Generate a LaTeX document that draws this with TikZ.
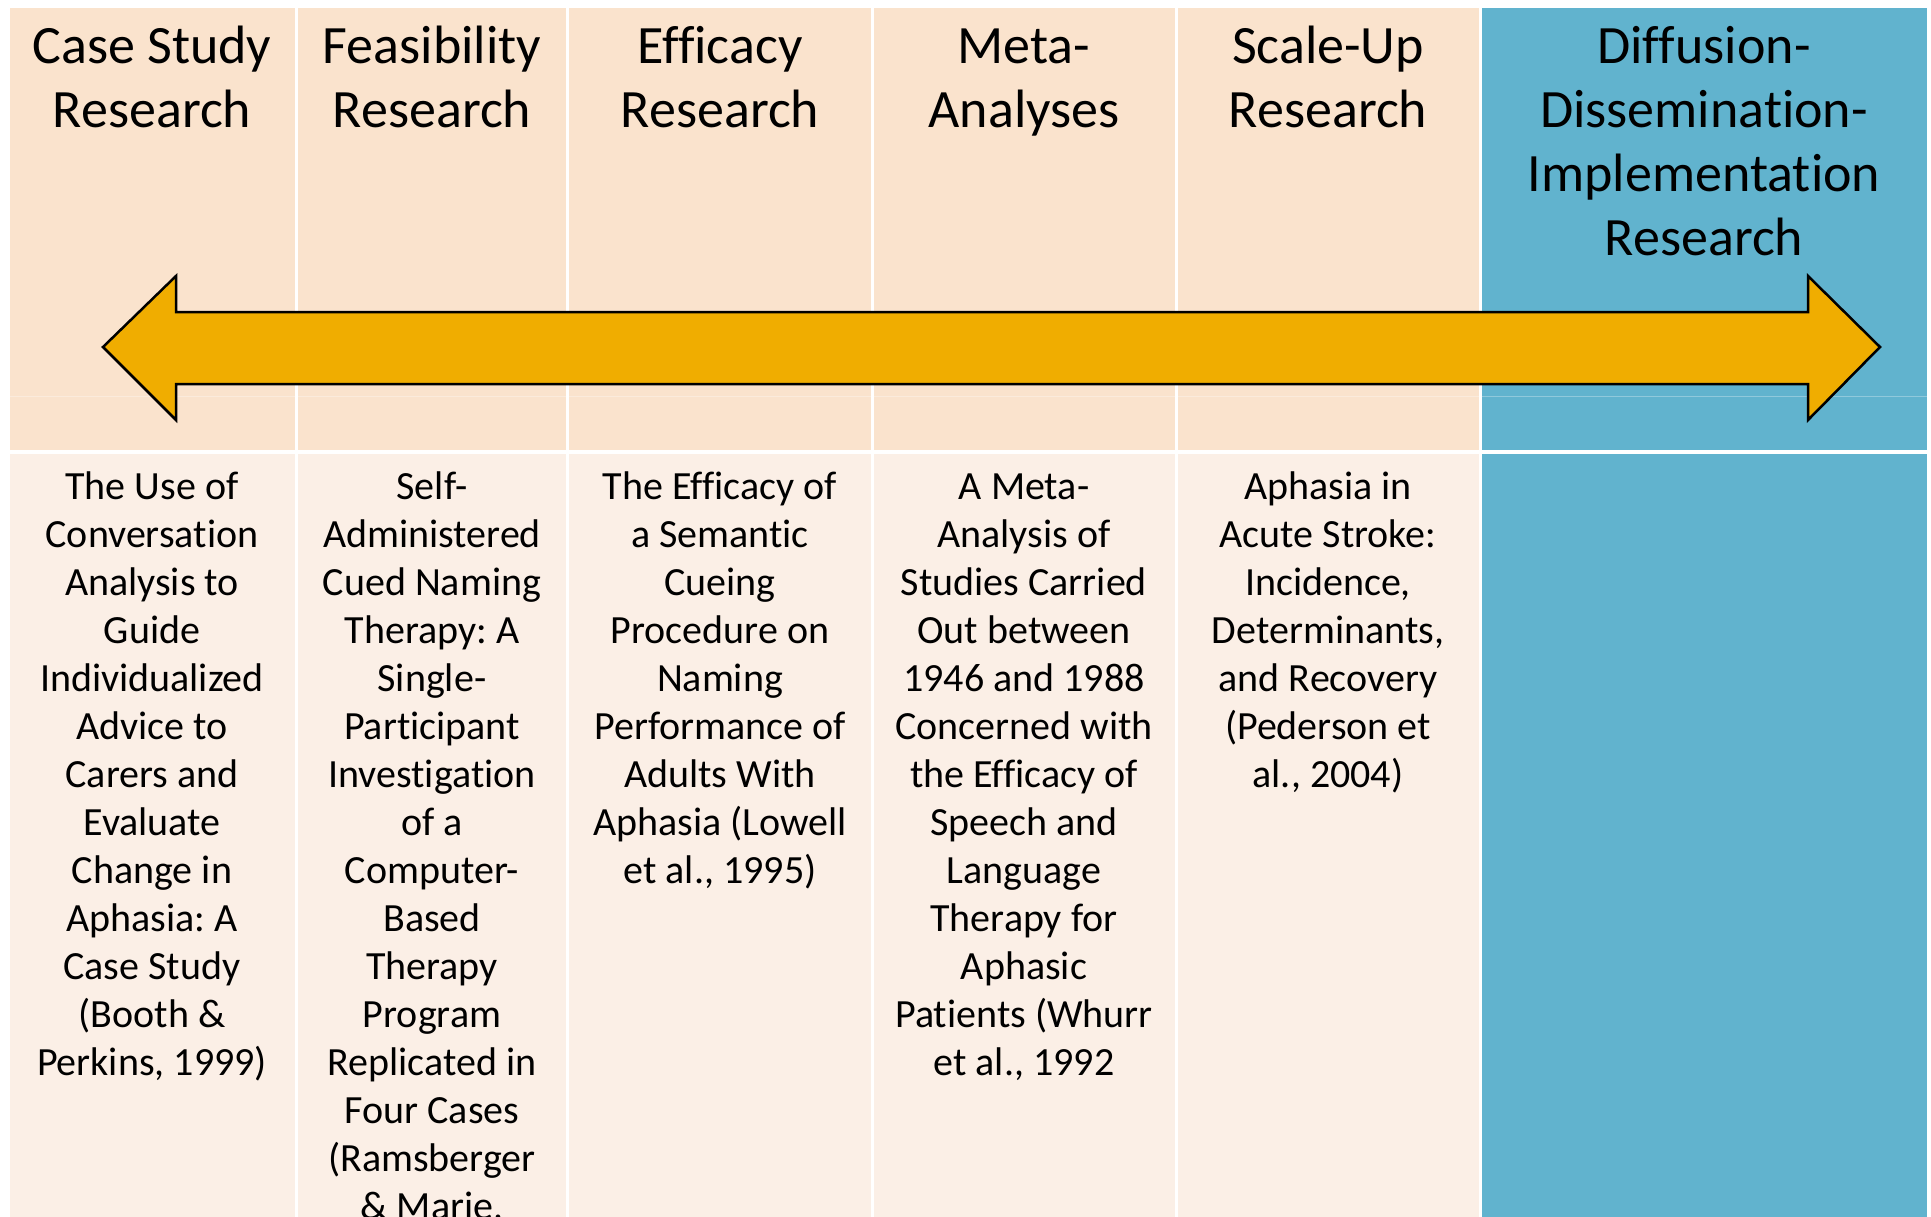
\documentclass[tikz,border=0pt]{standalone}
\usepackage{fontspec}
\setmainfont[Ligatures=NoCommon]{Carlito}
\frenchspacing
\definecolor{peach}{RGB}{250,227,205}
\definecolor{cream}{RGB}{251,239,230}
\definecolor{teal}{RGB}{97,179,206}
\definecolor{arrowc}{RGB}{240,173,0}
\begin{document}
\frenchspacing
\begin{tikzpicture}[x=1pt,y=-1pt,
  cell/.style={inner sep=0, outer sep=0, anchor=north west, draw=none},
  hcell/.style={cell, fill=peach},
  bcell/.style={cell, fill=cream},
  tcell/.style={cell, fill=teal},
  htext/.style={font=\fontsize{54}{64}\selectfont, align=center, inner sep=0, anchor=base},
  btext/.style={font=\fontsize{40}{48}\selectfont, align=center, inner sep=0, anchor=base},
  bigarrow/.style={fill=arrowc, draw=black, line width=2.5, line join=miter}]
\useasboundingbox (0,0) rectangle (1931,1216);
\fill[white] (0,0) rectangle (1931,1216);
\begin{scope}
\clip (0,0) rectangle (1931,1216);
% header cells
\node[hcell, minimum width=284.5, minimum height=442] (h1) at (10,8) {};
\node[hcell, minimum width=268.5, minimum height=442] (h2) at (297.5,8) {};
\node[hcell, minimum width=301.5, minimum height=442] (h3) at (569,8) {};
\node[hcell, minimum width=301, minimum height=442] (h4) at (873.5,8) {};
\node[hcell, minimum width=301, minimum height=442] (h5) at (1177.5,8) {};
\node[tcell, minimum width=445.5, minimum height=442] (h6) at (1481.5,8) {};
% body cells
\node[bcell, minimum width=284.5, minimum height=780] (b1) at (10,453.5) {};
\node[bcell, minimum width=268.5, minimum height=780] (b2) at (297.5,453.5) {};
\node[bcell, minimum width=301.5, minimum height=780] (b3) at (569,453.5) {};
\node[bcell, minimum width=301, minimum height=780] (b4) at (873.5,453.5) {};
\node[bcell, minimum width=301, minimum height=780] (b5) at (1177.5,453.5) {};
\node[tcell, minimum width=445.5, minimum height=780] (b6) at (1481.5,453.5) {};
% faint row line
\draw[white, opacity=.3, line width=1] (h1.west |- 0,396) coordinate (fl) -- (h6.east |- 0,396) coordinate (fr);
% header texts (anchor = baseline of last line)
\node[htext] (t1) at (152,127) {Case Study\\Research};
\node[htext] (t2) at (432,127) {Feasibility\\Research};
\node[htext] (t3) at (720,127) {Efficacy\\Research};
\node[htext] (t4) at (1024,127) {Meta-\\Analyses};
\node[htext] (t5) at (1328,127) {Scale-Up\\Research};
\node[htext] (t6) at (1704,255) {Diffusion-\\Dissemination-\\Implementation\\Research};
% body texts (anchor = baseline of last line)
\node[btext] (s1) at (152,1075) {The Use of\\Conversation\\Analysis to\\Guide\\Individualized\\Advice to\\Carers and\\Evaluate\\Change in\\Aphasia: A\\Case Study\\(Booth \&\\Perkins, 1999)};
\node[btext] (s2) at (432,1219) {Self-\\Administered\\Cued Naming\\Therapy: A\\Single-\\Participant\\Investigation\\of a\\Computer-\\Based\\Therapy\\Program\\Replicated in\\Four Cases\\(Ramsberger\\\& Marie,};
\node[btext] (s3) at (720,883) {The Efficacy of\\a Semantic\\Cueing\\Procedure on\\Naming\\Performance of\\Adults With\\Aphasia (Lowell\\et al., 1995)};
\node[btext] (s4) at (1024,1075) {A Meta-\\Analysis of\\Studies Carried\\Out between\\1946 and 1988\\Concerned with\\the Efficacy of\\Speech and\\Language\\Therapy for\\Aphasic\\Patients (Whurr\\et al., 1992};
\node[btext] (s5) at (1328,787) {Aphasia in\\Acute Stroke:\\Incidence,\\Determinants,\\and Recovery\\(Pederson et\\al., 2004)};
% double arrow
\filldraw[bigarrow] (103,347) -- (176,276) -- (176,312) -- (1808,312) -- (1808,276) -- (1880,347) -- (1808,420) -- (1808,384) -- (176,384) -- (176,420) -- cycle;
\end{scope}
\end{tikzpicture}
\end{document}
